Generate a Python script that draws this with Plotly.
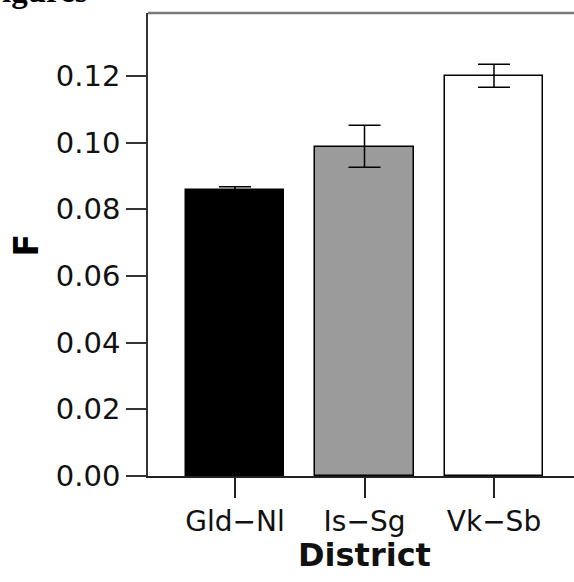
import plotly.graph_objects as go

districts = ["Gld−Nl", "Is−Sg", "Vk−Sb"]
f_values = [0.0858, 0.0988, 0.1199]
err_plus = [0.0010, 0.0064, 0.0036]
err_minus = [0.0010, 0.0062, 0.0033]
bar_colors = ["#000000", "#9b9b9b", "#ffffff"]
y_ticks = [0.00, 0.02, 0.04, 0.06, 0.08, 0.10, 0.12]
y_tick_labels = ["0.00", "0.02", "0.04", "0.06", "0.08", "0.10", "0.12"]

W, H = 574, 582
L, R, T, B = 148, 0, 13, 106

fig = go.Figure()
fig.add_trace(go.Bar(
    x=[0, 1, 2], y=f_values, width=0.757,
    marker=dict(color=bar_colors, line=dict(color="#000000", width=1.5)),
    error_y=dict(type="data", symmetric=False, array=err_plus, arrayminus=err_minus,
                 color="#000000", thickness=1.5, width=16),
    showlegend=False,
))

font_fam = "DejaVu Sans, Verdana, sans-serif"
fig.update_layout(
    width=W, height=H,
    margin=dict(l=L, r=R, t=T, b=B, pad=0),
    paper_bgcolor="white", plot_bgcolor="white",
    bargap=0,
    xaxis=dict(
        range=[-0.672, 2.618], tickmode="array", tickvals=[0, 1, 2], ticktext=districts,
        ticks="outside", ticklen=20, tickwidth=1.5, tickcolor="#222222",
        showline=True, linecolor="#222222", linewidth=1.5,
        showgrid=False, zeroline=False,
        tickfont=dict(family=font_fam, size=28, color="#111111"),
    ),
    yaxis=dict(
        range=[0, 0.1389], tickmode="array", tickvals=y_ticks, ticktext=y_tick_labels,
        ticks="outside", ticklen=20, tickwidth=1.5, tickcolor="#333333",
        showline=True, linecolor="#333333", linewidth=1.5,
        showgrid=False, zeroline=False,
        tickfont=dict(family=font_fam, size=29, color="#111111"),
    ),
    shapes=[dict(type="line", xref="paper", yref="paper", x0=0, x1=1, y0=1, y1=1,
                 line=dict(color="#7a7a7a", width=2.5))],
    annotations=[
        dict(text="<b>F</b>", xref="paper", yref="paper", x=(26 - L) / (W - L - R), y=0.5,
             xanchor="center", yanchor="middle", textangle=-90, showarrow=False,
             font=dict(family=font_fam, size=33, color="#000000")),
        dict(text="<b>District</b>", xref="x", yref="paper", x=1, y=(476 - 555) / (H - T - B),
             xanchor="center", yanchor="middle", showarrow=False,
             font=dict(family=font_fam, size=32, color="#111111")),
        dict(text="<b>igures</b>", xref="paper", yref="paper", x=(0 - L) / (W - L - R),
             y=(476 + 9) / (H - T - B), xanchor="left", yanchor="middle", showarrow=False,
             font=dict(family="Liberation Serif, Times New Roman, serif", size=33, color="#000000")),
    ],
)

fig.write_html("out.html", config={"displayModeBar": False},
               post_script="document.body.style.margin='0';document.body.style.overflow='hidden';")
